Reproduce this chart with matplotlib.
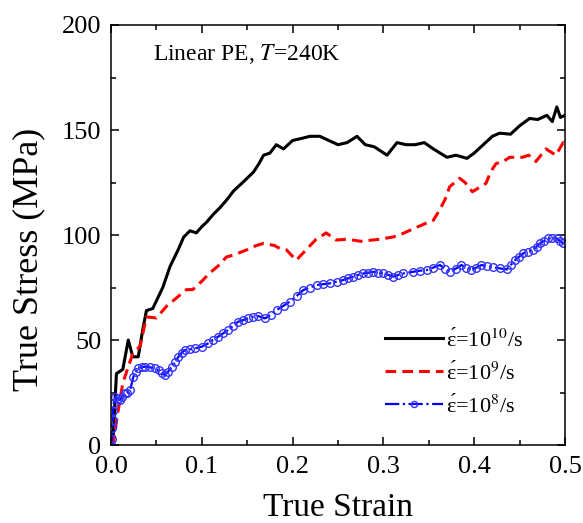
import matplotlib.pyplot as plt
import numpy as np
from matplotlib.ticker import MultipleLocator

plt.rcParams['font.family'] = ['Liberation Serif', 'DejaVu Serif']
plt.rcParams['mathtext.fontset'] = 'stix'

# strain rate 1e10 /s
strain_10 = [0.0, 0.002, 0.006, 0.013, 0.019, 0.024, 0.03, 0.035, 0.039, 0.046, 0.057,
             0.065, 0.074, 0.08, 0.087, 0.094, 0.1, 0.105, 0.113, 0.12, 0.128, 0.135,
             0.145, 0.157, 0.163, 0.168, 0.175, 0.182, 0.19, 0.2, 0.21, 0.219, 0.23,
             0.24, 0.25, 0.26, 0.271, 0.28, 0.29, 0.304, 0.315, 0.325, 0.335, 0.345,
             0.355, 0.37, 0.38, 0.392, 0.4, 0.41, 0.42, 0.428, 0.44, 0.45, 0.461,
             0.47, 0.48, 0.486, 0.491, 0.495, 0.5]
stress_10 = [0, 1, 34, 36, 50, 42, 42, 55, 64, 65, 75,
             85, 93, 99, 102, 101, 104, 106, 110, 113, 117, 121,
             125, 130, 134, 138, 139, 143, 141, 145, 146, 147, 147,
             145, 143, 144, 147, 143, 142, 138, 144, 143, 143, 144,
             141, 137, 138, 136.5, 139, 143, 147, 148.5, 148, 152, 155.5,
             155, 157, 154, 161, 156, 157]

# strain rate 1e9 /s
strain_9 = [0.0, 0.003, 0.0066, 0.013, 0.024, 0.032, 0.039, 0.05, 0.061, 0.072, 0.083,
            0.09, 0.1, 0.109, 0.12, 0.127, 0.135, 0.15, 0.16, 0.168, 0.18, 0.186,
            0.193, 0.204, 0.215, 0.226, 0.237, 0.248, 0.26, 0.275, 0.296, 0.31,
            0.318, 0.333, 0.347, 0.355, 0.362, 0.368, 0.373, 0.384, 0.39, 0.398,
            0.413, 0.418, 0.424, 0.432, 0.439, 0.453, 0.46, 0.468, 0.479, 0.49,
            0.498, 0.5]
stress_9 = [0, 2, 13, 29.5, 43.6, 47, 61, 60.5, 66, 70, 74,
            74, 78, 82, 86, 89.5, 90.5, 93, 95, 96, 95, 93.6,
            93, 88, 93, 98, 101, 97.6, 98, 97, 98, 99,
            100, 103, 105.6, 107, 112, 117, 123, 127, 125, 120.6,
            124.6, 130, 134, 135, 137, 137, 138, 135, 141, 138,
            144, 143]

# strain rate 1e8 /s
strain_8 = [0.0, 0.001, 0.001, 0.002, 0.002, 0.003, 0.0044, 0.0075, 0.0099, 0.0125,
            0.0154, 0.018, 0.021, 0.0246, 0.0275, 0.030, 0.0337, 0.0374, 0.043,
            0.0485, 0.0525, 0.0558, 0.0595, 0.063, 0.0668, 0.0705, 0.0742, 0.078,
            0.0815, 0.087, 0.0925, 0.0999, 0.107, 0.112, 0.118, 0.1235, 0.129,
            0.1345, 0.140, 0.1455, 0.151, 0.156, 0.162, 0.1696, 0.176, 0.1825,
            0.19, 0.197, 0.2045, 0.2118, 0.219, 0.2265, 0.234, 0.2412, 0.2485,
            0.2559, 0.2614, 0.2669, 0.2724, 0.2779, 0.2834, 0.2889, 0.2944,
            0.2999, 0.3055, 0.311, 0.3165, 0.322, 0.333, 0.3403, 0.3477, 0.355,
            0.3623, 0.3678, 0.3733, 0.3797, 0.386, 0.3915, 0.397, 0.4025,
            0.408, 0.4145, 0.421, 0.4284, 0.4358, 0.4404, 0.445, 0.4495, 0.454,
            0.4595, 0.465, 0.4688, 0.4725, 0.477, 0.4816, 0.4862, 0.4908,
            0.4944, 0.498]
stress_8 = [0, 3, 8, 12, 16, 20, 23, 22, 21.4, 23, 24.6, 25, 26, 32.5, 35,
            36.6, 37, 37.3, 37, 36.6, 35.5, 34.1, 33.3, 35, 37.3, 39.5, 42,
            44, 45.2, 45.6, 46, 46.8, 48.4, 50, 51.6, 53.2, 54.8, 56.8, 58.7,
            59.5, 60.3, 61, 61.4, 60.3, 62, 64.3, 66.3, 68.3, 71, 73.8, 75,
            76.2, 76.6, 77, 77.8, 78.6, 79.4, 80.2, 81, 81.7, 82.1, 82.5,
            82.1, 81.7, 81, 80.2, 81, 81.7, 82.5, 83, 83.3, 84.5, 85.7, 84,
            82.5, 84, 85.7, 84.5, 83.3, 84.5, 85.7, 85.2, 84.6, 84.1, 83.6,
            85.8, 88, 89.7, 91.3, 92.1, 92.9, 94.5, 96, 97.2, 98.4, 98.4,
            98.4, 97.2, 96]

labels = [u'\u03b5\u0301=10$^{10}$/s', u'\u03b5\u0301=10$^{9}$/s', u'\u03b5\u0301=10$^{8}$/s']

fig = plt.figure(figsize=(5.83, 5.23), dpi=100)
ax = fig.add_axes([0.1904, 0.1491, 0.7787, 0.8031])

ax.plot(strain_10, stress_10, color='black', lw=2.2, label=labels[0])
ax.plot(strain_9, stress_9, color='red', lw=2.2, ls=(0, (3.5, 2)), label=labels[1])
ax.plot(strain_8, stress_8, color='blue', lw=1.6, ls='-.', marker='o', ms=5.5,
        mfc='none', mec='#3333ff', mew=1.0, label=labels[2])

ax.set_xlim(0, 0.5)
ax.set_ylim(0, 200)
ax.xaxis.set_major_locator(MultipleLocator(0.1))
ax.xaxis.set_minor_locator(MultipleLocator(0.05))
ax.yaxis.set_major_locator(MultipleLocator(50))
ax.yaxis.set_minor_locator(MultipleLocator(25))
ax.xaxis.set_major_formatter(plt.FuncFormatter(lambda v, p: '%.1f' % v))
ax.tick_params(which='both', direction='in', top=True, right=True, labelsize=19, width=1.1)
ax.tick_params(which='major', length=6)
ax.tick_params(which='minor', length=3.5)
ax.tick_params(axis='x', pad=8)
ax.tick_params(axis='y', pad=7)
for s in ax.spines.values():
    s.set_linewidth(1.1)

ax.set_xlabel('True Strain', fontsize=24, labelpad=10)
ax.set_ylabel('True Stress (MPa)', fontsize=26)
ax.yaxis.set_label_coords(-0.145, 0.443)

ax.text(0.046, 186, 'Linear PE, $T$=240K', fontsize=17, va='center')

leg = ax.legend(loc='lower right', frameon=False, fontsize=16, handlelength=2.6,
                handletextpad=0.15, labelspacing=0.45, bbox_to_anchor=(0.952, 0.02),
                markerscale=0.8, numpoints=1)

fig.savefig('out.png', dpi=100)
